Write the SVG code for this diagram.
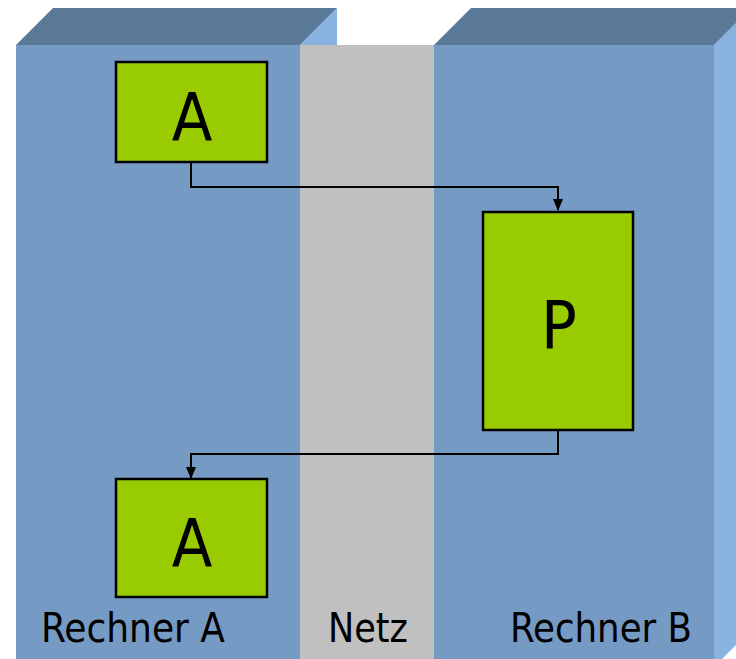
<svg xmlns="http://www.w3.org/2000/svg" width="736" height="659" viewBox="0 0 736 659">
<style>
.front{fill:#759bc5}
.top{fill:#5b7a9a}
.side{fill:#88b3e1}
.net{fill:#c0c0c0}
.node{fill:#99cc00;stroke:#000;stroke-width:2.5}
.big{font-family:"DejaVu Sans Condensed","DejaVu Sans","Liberation Sans",sans-serif;font-size:66px;fill:#000;text-anchor:middle}
.lbl{font-family:"DejaVu Sans Condensed","DejaVu Sans","Liberation Sans",sans-serif;font-size:41px;fill:#000}
.conn{fill:none;stroke:#000;stroke-width:2}
</style>
<defs>
<marker id="ah" markerWidth="12" markerHeight="12" refX="11" refY="5" orient="auto" markerUnits="userSpaceOnUse" viewBox="0 0 12 10">
<path d="M0,0 L12,5 L0,10 Z" fill="#000"/>
</marker>
</defs>
<rect width="736" height="659" fill="#fff"/>
<g id="rechner-a">
<polygon class="side" points="300,45 337,8 337,659 300,659"/>
<polygon class="top" points="16,45 53,8 337,8 300,45"/>
<rect class="front" x="16" y="45" width="284" height="614"/>
<text class="lbl" x="41" y="642" textLength="184" lengthAdjust="spacingAndGlyphs">Rechner A</text>
</g>
<g id="netz">
<rect class="net" x="300" y="45" width="134" height="614"/>
<text class="lbl" x="328" y="642" textLength="80" lengthAdjust="spacingAndGlyphs">Netz</text>
</g>
<g id="rechner-b">
<polygon class="side" points="714,45 751,8 751,630 714,667"/>
<polygon class="top" points="434,45 471,8 751,8 714,45"/>
<rect class="front" x="434" y="45" width="280" height="614"/>
<text class="lbl" x="510" y="642" textLength="182" lengthAdjust="spacingAndGlyphs">Rechner B</text>
</g>
<g id="connectors">
<polyline class="conn" points="191,162 191,187 558,187 558,210" marker-end="url(#ah)"/>
<polyline class="conn" points="558,430 558,454 191,454 191,478" marker-end="url(#ah)"/>
</g>
<g id="node-a1">
<rect class="node" x="116" y="62" width="151" height="100"/>
<text class="big" x="192" y="140">A</text>
</g>
<g id="node-p">
<rect class="node" x="483" y="212" width="150" height="218"/>
<text class="big" x="559" y="348">P</text>
</g>
<g id="node-a2">
<rect class="node" x="116" y="479" width="151" height="118"/>
<text class="big" x="192" y="566">A</text>
</g>
</svg>
